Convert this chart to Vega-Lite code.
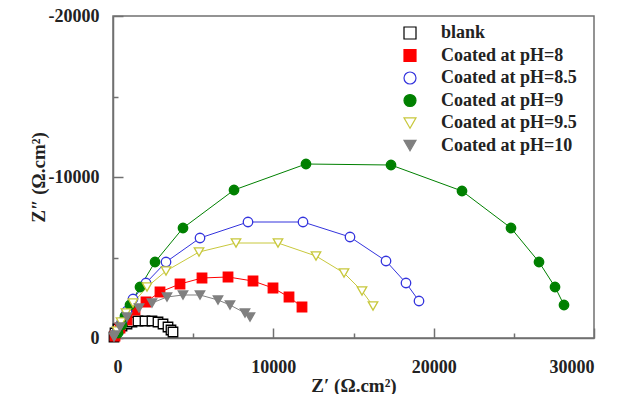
{
  "$schema": "https://vega.github.io/schema/vega-lite/v6.json",
  "width": 481,
  "height": 322,
  "autosize": "none",
  "padding": {"left": 113, "top": 16, "right": 35, "bottom": 56},
  "background": "white",
  "config": {
    "view": {"stroke": "#707070", "strokeWidth": 1.5},
    "axis": {
      "grid": false,
      "domainColor": "#707070",
      "domainWidth": 1.5,
      "tickColor": "#707070",
      "tickWidth": 1.5,
      "labelFont": "Liberation Serif",
      "labelFontWeight": "bold",
      "labelFontSize": 18,
      "labelColor": "#222222",
      "titleFont": "Liberation Serif",
      "titleFontWeight": "bold",
      "titleFontSize": 19,
      "titleColor": "#222222"
    },
    "legend": {"title": null, "orient": "none", "legendX": 288, "legendY": 8, "padding": 0, "symbolSize": 144, "labelOffset": 22, "rowPadding": 4.5, "labelFont": "Liberation Serif", "labelFontWeight": "bold", "labelFontSize": 18, "labelColor": "#222222", "symbolStrokeWidth": 1.2}
  },
  "data": {
    "values": [
      {"s": "blank", "i": 1, "x": 62, "y": -62},
      {"s": "blank", "i": 2, "x": 125, "y": -311},
      {"s": "blank", "i": 3, "x": 312, "y": -559},
      {"s": "blank", "i": 4, "x": 561, "y": -745},
      {"s": "blank", "i": 5, "x": 873, "y": -870},
      {"s": "blank", "i": 6, "x": 1185, "y": -994},
      {"s": "blank", "i": 7, "x": 1559, "y": -1056},
      {"s": "blank", "i": 8, "x": 1996, "y": -1056},
      {"s": "blank", "i": 9, "x": 2432, "y": -1056},
      {"s": "blank", "i": 10, "x": 2807, "y": -994},
      {"s": "blank", "i": 11, "x": 3119, "y": -870},
      {"s": "blank", "i": 12, "x": 3430, "y": -683},
      {"s": "blank", "i": 13, "x": 3617, "y": -497},
      {"s": "blank", "i": 14, "x": 3742, "y": -373},
      {"s": "Coated at pH=8", "i": 1, "x": 125, "y": -124},
      {"s": "Coated at pH=8", "i": 2, "x": 437, "y": -621},
      {"s": "Coated at pH=8", "i": 3, "x": 873, "y": -1118},
      {"s": "Coated at pH=8", "i": 4, "x": 1372, "y": -1739},
      {"s": "Coated at pH=8", "i": 5, "x": 2058, "y": -2236},
      {"s": "Coated at pH=8", "i": 6, "x": 2931, "y": -2857},
      {"s": "Coated at pH=8", "i": 7, "x": 4179, "y": -3354},
      {"s": "Coated at pH=8", "i": 8, "x": 5551, "y": -3727},
      {"s": "Coated at pH=8", "i": 9, "x": 7173, "y": -3789},
      {"s": "Coated at pH=8", "i": 10, "x": 8732, "y": -3540},
      {"s": "Coated at pH=8", "i": 11, "x": 9979, "y": -3106},
      {"s": "Coated at pH=8", "i": 12, "x": 10977, "y": -2547},
      {"s": "Coated at pH=8", "i": 13, "x": 11788, "y": -1925},
      {"s": "Coated at pH=8.5", "i": 1, "x": 250, "y": -373},
      {"s": "Coated at pH=8.5", "i": 2, "x": 561, "y": -994},
      {"s": "Coated at pH=8.5", "i": 3, "x": 873, "y": -1677},
      {"s": "Coated at pH=8.5", "i": 4, "x": 1247, "y": -2422},
      {"s": "Coated at pH=8.5", "i": 5, "x": 2058, "y": -3416},
      {"s": "Coated at pH=8.5", "i": 6, "x": 3306, "y": -4720},
      {"s": "Coated at pH=8.5", "i": 7, "x": 5426, "y": -6211},
      {"s": "Coated at pH=8.5", "i": 8, "x": 8420, "y": -7205},
      {"s": "Coated at pH=8.5", "i": 9, "x": 11850, "y": -7205},
      {"s": "Coated at pH=8.5", "i": 10, "x": 14782, "y": -6273},
      {"s": "Coated at pH=8.5", "i": 11, "x": 17027, "y": -4783},
      {"s": "Coated at pH=8.5", "i": 12, "x": 18274, "y": -3416},
      {"s": "Coated at pH=8.5", "i": 13, "x": 19085, "y": -2298},
      {"s": "Coated at pH=9", "i": 1, "x": 312, "y": -311},
      {"s": "Coated at pH=9", "i": 2, "x": 561, "y": -807},
      {"s": "Coated at pH=9", "i": 3, "x": 748, "y": -1366},
      {"s": "Coated at pH=9", "i": 4, "x": 1060, "y": -2050},
      {"s": "Coated at pH=9", "i": 5, "x": 1684, "y": -3168},
      {"s": "Coated at pH=9", "i": 6, "x": 2620, "y": -4720},
      {"s": "Coated at pH=9", "i": 7, "x": 4366, "y": -6832},
      {"s": "Coated at pH=9", "i": 8, "x": 7547, "y": -9192},
      {"s": "Coated at pH=9", "i": 9, "x": 12037, "y": -10807},
      {"s": "Coated at pH=9", "i": 10, "x": 17339, "y": -10745},
      {"s": "Coated at pH=9", "i": 11, "x": 21767, "y": -9130},
      {"s": "Coated at pH=9", "i": 12, "x": 24823, "y": -6832},
      {"s": "Coated at pH=9", "i": 13, "x": 26570, "y": -4720},
      {"s": "Coated at pH=9", "i": 14, "x": 27568, "y": -3168},
      {"s": "Coated at pH=9", "i": 15, "x": 28129, "y": -2050},
      {"s": "Coated at pH=9.5", "i": 1, "x": 250, "y": -435},
      {"s": "Coated at pH=9.5", "i": 2, "x": 500, "y": -994},
      {"s": "Coated at pH=9.5", "i": 3, "x": 811, "y": -1553},
      {"s": "Coated at pH=9.5", "i": 4, "x": 1247, "y": -2174},
      {"s": "Coated at pH=9.5", "i": 5, "x": 2121, "y": -3168},
      {"s": "Coated at pH=9.5", "i": 6, "x": 3306, "y": -4161},
      {"s": "Coated at pH=9.5", "i": 7, "x": 5364, "y": -5341},
      {"s": "Coated at pH=9.5", "i": 8, "x": 7672, "y": -5900},
      {"s": "Coated at pH=9.5", "i": 9, "x": 10291, "y": -5900},
      {"s": "Coated at pH=9.5", "i": 10, "x": 12661, "y": -5093},
      {"s": "Coated at pH=9.5", "i": 11, "x": 14408, "y": -4037},
      {"s": "Coated at pH=9.5", "i": 12, "x": 15530, "y": -2919},
      {"s": "Coated at pH=9.5", "i": 13, "x": 16217, "y": -1988},
      {"s": "Coated at pH=10", "i": 1, "x": 62, "y": -62},
      {"s": "Coated at pH=10", "i": 2, "x": 125, "y": -186},
      {"s": "Coated at pH=10", "i": 3, "x": 437, "y": -683},
      {"s": "Coated at pH=10", "i": 4, "x": 873, "y": -1304},
      {"s": "Coated at pH=10", "i": 5, "x": 1622, "y": -1863},
      {"s": "Coated at pH=10", "i": 6, "x": 2432, "y": -2174},
      {"s": "Coated at pH=10", "i": 7, "x": 3368, "y": -2547},
      {"s": "Coated at pH=10", "i": 8, "x": 4366, "y": -2671},
      {"s": "Coated at pH=10", "i": 9, "x": 5426, "y": -2671},
      {"s": "Coated at pH=10", "i": 10, "x": 6549, "y": -2360},
      {"s": "Coated at pH=10", "i": 11, "x": 7297, "y": -2050},
      {"s": "Coated at pH=10", "i": 12, "x": 8233, "y": -1553},
      {"s": "Coated at pH=10", "i": 13, "x": 8545, "y": -1304}
    ]
  },
  "layer": [
    {
      "mark": {"type": "line", "strokeWidth": 1, "clip": true},
      "encoding": {
        "x": {"field": "x", "type": "quantitative", "scale": {"domain": [0, 30000], "nice": false, "zero": false},
          "axis": {"orient": "bottom", "values": [0, 10000, 20000, 30000], "tickSize": -10, "labelPadding": 30, "labelExpr": "'' + datum.value", "title": "Z′ (Ω.cm²)", "titlePadding": 0}},
        "y": {"field": "y", "type": "quantitative", "scale": {"domain": [0, -20000], "nice": false, "zero": false},
          "axis": {"orient": "left", "values": [0, -10000, -20000], "tickSize": -10, "labelPadding": 24, "labelExpr": "'' + datum.value", "title": "Z″ (Ω.cm²)", "titlePadding": 0}},
        "order": {"field": "i", "type": "quantitative"},
        "detail": {"field": "s"},
        "stroke": {"field": "s", "type": "nominal",
          "scale": {"domain": ["blank", "Coated at pH=8", "Coated at pH=8.5", "Coated at pH=9", "Coated at pH=9.5", "Coated at pH=10"],
            "range": ["#000000", "#ff0000", "#3333dd", "#008000", "#c8c83c", "#808080"]}}
      }
    },
    {
      "mark": {"type": "point", "strokeWidth": 1.3, "opacity": 1, "filled": false},
      "encoding": {
        "x": {"field": "x", "type": "quantitative",
          "axis": {"orient": "bottom", "values": [5000, 15000, 25000], "tickSize": -5, "labels": false, "domain": false, "title": null}},
        "y": {"field": "y", "type": "quantitative",
          "axis": {"orient": "left", "values": [-5000, -15000], "tickSize": -5, "labels": false, "domain": false, "title": null}},
        "size": {"value": 90},
        "stroke": {"field": "s", "type": "nominal"},
        "fill": {"field": "s", "type": "nominal",
          "scale": {"domain": ["blank", "Coated at pH=8", "Coated at pH=8.5", "Coated at pH=9", "Coated at pH=9.5", "Coated at pH=10"],
            "range": ["#ffffff", "#ff0000", "#ffffff", "#008000", "#ffffff", "#808080"]}},
        "shape": {"field": "s", "type": "nominal",
          "scale": {"domain": ["blank", "Coated at pH=8", "Coated at pH=8.5", "Coated at pH=9", "Coated at pH=9.5", "Coated at pH=10"],
            "range": ["square", "square", "circle", "circle", "triangle-down", "triangle-down"]}}
      }
    }
  ],
  "resolve": {"axis": {"x": "independent", "y": "independent"}}
}
